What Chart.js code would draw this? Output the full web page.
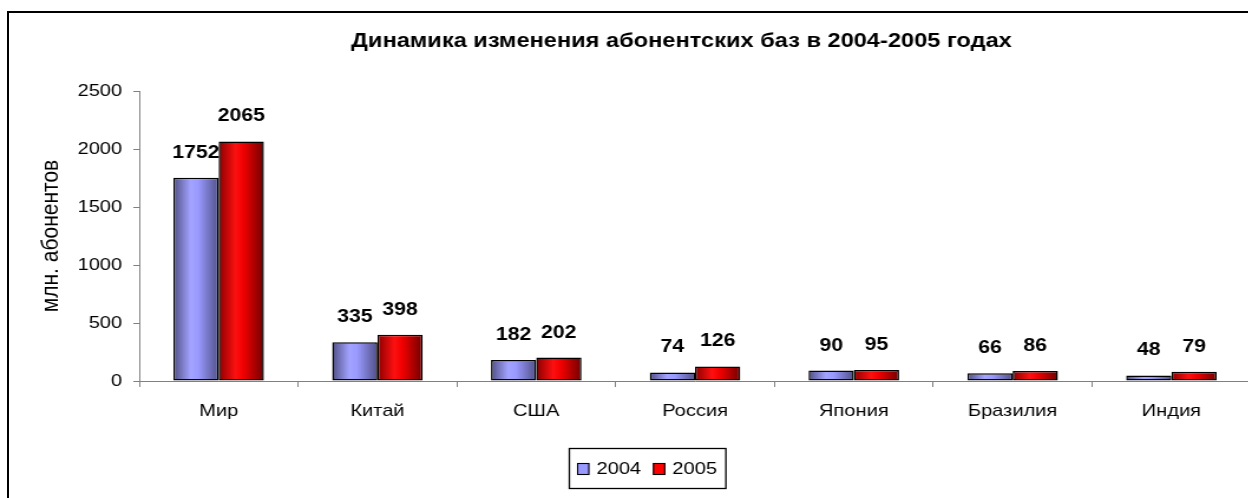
<!DOCTYPE html>
<html>
<head>
<meta charset="utf-8">
<script src="https://cdn.jsdelivr.net/npm/chart.js@4/dist/chart.umd.min.js"></script>
<style>
  html, body { margin: 0; padding: 0; width: 1248px; height: 498px; overflow: hidden; background: #fff; }
  #frame { position: absolute; left: 7px; top: 11px; width: 1400px; height: 600px; border: 2px solid #000; box-sizing: border-box; pointer-events: none; }
  #wrap { position: absolute; left: 0; top: 0; width: 1156px; height: 498px; transform: scaleX(1.18); transform-origin: 0 0; }
  #c { display: block; }
</style>
</head>
<body>
<div id="frame"></div>
<div id="wrap"><canvas id="c" width="1156" height="498"></canvas></div>
<script>
const titleText = 'Динамика изменения абонентских баз в 2004-2005 годах';
const yAxisTitle = 'млн. абонентов';
const categories = ['Мир', 'Китай', 'США', 'Россия', 'Япония', 'Бразилия', 'Индия'];
const seriesNames = ['2004', '2005'];
const values2004 = [1752, 335, 182, 74, 90, 66, 48];
const values2005 = [2065, 398, 202, 126, 95, 86, 79];
const yTicks = [0, 500, 1000, 1500, 2000, 2500];

const FONT = "'Liberation Sans', Arial, Helvetica, sans-serif";
Chart.defaults.font.family = FONT;
Chart.defaults.color = '#000';

const palettes = [
  { solid: '#9999ff', stops: ['#4f4f85', '#a3a3ff', '#9a9aff', '#505088'] },
  { solid: '#ff0000', stops: ['#8a0000', '#ff1010', '#f00000', '#700000'] }
];

const gradientPlugin = {
  id: 'barGradient',
  beforeDatasetsDraw(chart) {
    const ctx = chart.ctx;
    chart.data.datasets.forEach((ds, di) => {
      const meta = chart.getDatasetMeta(di);
      const pal = palettes[di];
      meta.data.forEach(el => {
        const p = el.getProps(['x', 'width'], true);
        const g = ctx.createLinearGradient(p.x - p.width / 2, 0, p.x + p.width / 2, 0);
        g.addColorStop(0, pal.stops[0]);
        g.addColorStop(0.38, pal.stops[1]);
        g.addColorStop(0.55, pal.stops[2]);
        g.addColorStop(1, pal.stops[3]);
        el.options.backgroundColor = g;
      });
    });
  }
};

const labelPlugin = {
  id: 'valueLabels',
  afterDatasetsDraw(chart) {
    const ctx = chart.ctx;
    ctx.save();
    ctx.font = 'bold 18px ' + FONT;
    ctx.fillStyle = '#000';
    ctx.textAlign = 'center';
    ctx.textBaseline = 'middle';
    chart.data.datasets.forEach((ds, di) => {
      const meta = chart.getDatasetMeta(di);
      meta.data.forEach((el, i) => {
        ctx.fillText(String(ds.data[i]), el.x, el.y - 25);
      });
    });
    ctx.restore();
  }
};

const boxLegendPlugin = {
  id: 'boxLegend',
  afterDraw(chart, args, opts) {
    const ctx = chart.ctx;
    ctx.save();
    ctx.font = '17px ' + FONT;
    const sqW = 10.5, sqH = 12, gapAfterSq = 6, gapItems = 10, padX = 7;
    const items = chart.data.datasets.map((ds, di) => ({ text: ds.label, color: palettes[di].solid }));
    let total = padX * 2;
    items.forEach((it, i) => {
      it.w = ctx.measureText(it.text).width;
      total += sqW + gapAfterSq + it.w + (i < items.length - 1 ? gapItems : 0);
    });
    const left = Math.round(opts.centerX - total / 2);
    const top = opts.top, h = opts.height;
    ctx.lineWidth = 1.3;
    ctx.strokeStyle = '#000';
    ctx.fillStyle = '#fff';
    ctx.fillRect(left, top, total, h);
    ctx.strokeRect(left + 0.5, top + 0.5, total, h);
    let x = left + padX;
    const cy = top + h / 2 + 1;
    ctx.textBaseline = 'middle';
    ctx.textAlign = 'left';
    items.forEach((it) => {
      ctx.fillStyle = it.color;
      ctx.fillRect(x, cy - sqH / 2, sqW, sqH);
      ctx.lineWidth = 1.1;
      ctx.strokeRect(x + 0.5, cy - sqH / 2 + 0.5, sqW - 1, sqH - 1);
      x += sqW + gapAfterSq;
      ctx.fillStyle = '#000';
      ctx.fillText(it.text, x, cy);
      x += it.w + gapItems;
    });
    ctx.restore();
  }
};

new Chart(document.getElementById('c'), {
  type: 'bar',
  data: {
    labels: categories,
    datasets: [
      { label: seriesNames[0], data: values2004, backgroundColor: () => palettes[0].solid, borderColor: '#000', borderWidth: 1.5, borderSkipped: false },
      { label: seriesNames[1], data: values2005, backgroundColor: () => palettes[1].solid, borderColor: '#000', borderWidth: 1.5, borderSkipped: false }
    ]
  },
  plugins: [gradientPlugin, labelPlugin, boxLegendPlugin],
  options: {
    responsive: false,
    animation: false,
    events: [],
    categoryPercentage: 0.57,
    barPercentage: 1,
    layout: { padding: { left: 25, right: 26, top: 12, bottom: 0 } },
    plugins: {
      legend: { display: false },
      tooltip: { enabled: false },
      title: {
        display: true,
        text: titleText,
        font: { size: 20, weight: 'bold' },
        color: '#000',
        padding: { top: 17, bottom: 38 }
      },
      boxLegend: { centerX: 548, top: 448, height: 40 }
    },
    scales: {
      x: {
        offset: true,
        grid: { offset: true, drawOnChartArea: false, drawTicks: true, tickLength: 6, color: '#808080', lineWidth: 1 },
        border: { display: true, color: '#808080', width: 1 },
        ticks: { font: { size: 17 }, color: '#000', padding: 14, maxRotation: 0 },
        afterFit(scale) { scale.height = 117; }
      },
      y: {
        min: 0,
        max: 2500,
        afterBuildTicks(scale) { scale.ticks = yTicks.map(v => ({ value: v })); },
        grid: { drawOnChartArea: false, drawTicks: true, tickLength: 5, color: '#808080', lineWidth: 1 },
        border: { display: true, color: '#808080', width: 1 },
        ticks: { font: { size: 17 }, color: '#000', padding: 9.5, callback: (v) => String(v) },
        title: { display: true, text: yAxisTitle, font: { size: 21 }, color: '#000', padding: { top: 5.5, bottom: 0 } },
        afterFit(scale) { scale.width = 93; }
      },
      yRightSpace: {
        type: 'linear',
        position: 'right',
        min: 0,
        max: 1,
        grid: { display: false },
        border: { display: false },
        ticks: { display: false },
        afterFit(scale) { scale.width = 70; }
      }
    }
  }
});
</script>
</body>
</html>
